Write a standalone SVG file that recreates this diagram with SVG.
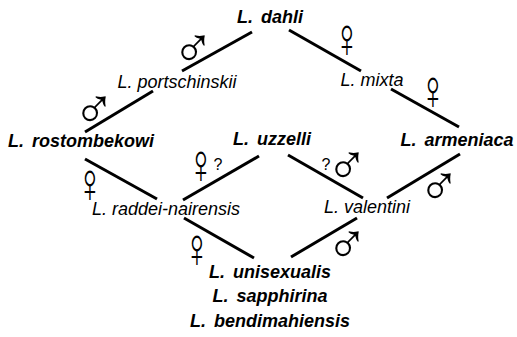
<svg xmlns="http://www.w3.org/2000/svg" width="517" height="337" viewBox="0 0 517 337">
<style>
.sp{font-family:"Liberation Sans",Arial,sans-serif;font-size:18px;font-style:italic;font-weight:bold;fill:#000;text-anchor:middle;word-spacing:3px}
.hy{font-family:"Liberation Sans",Arial,sans-serif;font-size:18px;font-style:italic;fill:#000;text-anchor:middle}
.m{font-family:"Liberation Sans",Arial,sans-serif;font-size:28px;fill:#000;text-anchor:middle}
.f{font-family:"Liberation Sans",Arial,sans-serif;font-size:28px;fill:#000;text-anchor:middle}
.q{font-family:"Liberation Sans",Arial,sans-serif;font-size:16px;fill:#000;text-anchor:middle}
.ln{stroke:#000;stroke-width:3;fill:none}
</style>
<rect width="517" height="337" fill="#fff"/>
<g id="connectors">
<line class="ln" x1="85" y1="132" x2="153" y2="91"/>
<line class="ln" x1="182" y1="71" x2="252" y2="32"/>
<line class="ln" x1="289" y1="30" x2="361" y2="71"/>
<line class="ln" x1="391" y1="89" x2="459" y2="127"/>
<line class="ln" x1="85" y1="159" x2="157" y2="199"/>
<line class="ln" x1="183" y1="200" x2="259" y2="156"/>
<line class="ln" x1="288" y1="155" x2="363" y2="198"/>
<line class="ln" x1="387" y1="198" x2="460" y2="154"/>
<line class="ln" x1="184" y1="218" x2="254" y2="258"/>
<line class="ln" x1="357" y1="218" x2="291" y2="257"/>
</g>
<g id="dahli"><text class="sp" x="270" y="23">L. dahli</text></g>
<g id="portschinskii"><text class="hy" x="177" y="88">L. portschinskii</text></g>
<g id="mixta"><text class="hy" x="372" y="86">L. mixta</text></g>
<g id="rostombekowi"><text class="sp" x="81" y="147">L. rostombekowi</text></g>
<g id="uzzelli"><text class="sp" x="272" y="145">L. uzzelli</text></g>
<g id="armeniaca"><text class="sp" x="457" y="146">L. armeniaca</text></g>
<g id="raddei-nairensis"><text class="hy" x="166" y="215">L. raddei-nairensis</text></g>
<g id="valentini"><text class="hy" x="367" y="213">L. valentini</text></g>
<g id="unisexuals">
<text class="sp" x="270" y="278">L. unisexualis</text>
<text class="sp" x="270" y="302">L. sapphirina</text>
<text class="sp" x="270" y="327">L. bendimahiensis</text>
</g>
<g id="sex-labels">
<text class="m" transform="translate(94,109) scale(2)" y="9.3">♂</text>
<text class="m" transform="translate(193,48) scale(2)" y="9.3">♂</text>
<text class="f" transform="translate(347,39) scale(1.3,2)" y="8.75">♀</text>
<text class="f" transform="translate(433,91) scale(1.3,2)" y="8.75">♀</text>
<text class="f" transform="translate(90,184) scale(1.3,2)" y="8.75">♀</text>
<text class="f" transform="translate(201,165) scale(1.3,2)" y="8.75">♀</text>
<text class="q" x="218" y="170">?</text>
<text class="q" x="326" y="170">?</text>
<text class="m" transform="translate(347,165) scale(2)" y="9.3">♂</text>
<text class="m" transform="translate(439,186) scale(2)" y="9.3">♂</text>
<text class="m" transform="translate(347,244) scale(2)" y="9.3">♂</text>
<text class="f" transform="translate(197,249) scale(1.3,2)" y="8.75">♀</text>
</g>
</svg>
